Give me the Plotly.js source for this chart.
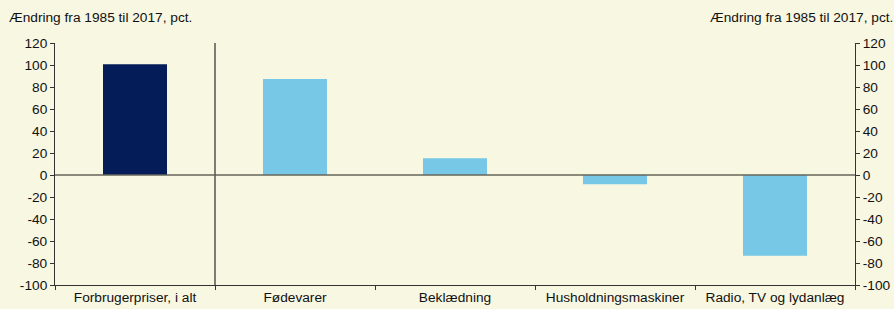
<!DOCTYPE html>
<html>
<head>
<meta charset="utf-8">
<script src="https://cdn.plot.ly/plotly-3.0.1.min.js"></script>
<style>html,body{margin:0;padding:0;background:#f8f7e1;}</style>
</head>
<body>
<div id="chart" style="width:894px;height:309px;"></div>
<script>
const categories = ["Forbrugerpriser, i alt", "Fødevarer", "Beklædning", "Husholdningsmaskiner", "Radio, TV og lydanlæg"];
const values = [100.6, 87.3, 15.2, -8.5, -73.5];
const barColors = ["#041c57", "#76c8e6", "#76c8e6", "#76c8e6", "#76c8e6"];
const yTicks = [-100, -80, -60, -40, -20, 0, 20, 40, 60, 80, 100, 120];
const axisTitle = "Ændring fra 1985 til 2017, pct.";

const font = {family: "Liberation Sans, Arial, sans-serif", size: 13.7, color: "#111"};
const axisColor = "#333";

const data = [
  {type: "bar", x: categories, y: values, marker: {color: barColors}, hoverinfo: "x+y"},
  {type: "bar", x: categories, y: values, yaxis: "y2", opacity: 0, hoverinfo: "skip", showlegend: false}
];

const yaxisCommon = {
  range: [-100, 120],
  tickvals: yTicks,
  ticktext: yTicks.map(String),
  ticks: "outside",
  ticklen: 4,
  tickcolor: axisColor,
  showline: true,
  linecolor: axisColor,
  linewidth: 1,
  showgrid: false,
  zeroline: false,
  fixedrange: true,
  tickfont: font
};

const layout = {
  width: 894, height: 309,
  margin: {l: 55, r: 39, t: 43, b: 24},
  paper_bgcolor: "#f8f7e1",
  plot_bgcolor: "#f8f7e1",
  showlegend: false,
  barmode: "overlay",
  bargap: 0.6,
  font: font,
  xaxis: {
    type: "category",
    tickson: "boundaries",
    ticks: "outside",
    ticklen: 4,
    tickcolor: axisColor,
    showline: true,
    linecolor: axisColor,
    linewidth: 1,
    showgrid: false,
    zeroline: false,
    tickfont: font,
    fixedrange: true
  },
  yaxis: Object.assign({}, yaxisCommon, {side: "left"}),
  yaxis2: Object.assign({}, yaxisCommon, {side: "right", overlaying: "y"}),
  shapes: [
    {type: "line", xref: "paper", x0: 0, x1: 1, yref: "y", y0: 0, y1: 0, line: {color: "#66665a", width: 1.5}},
    {type: "line", xref: "x", x0: 0.5, x1: 0.5, yref: "paper", y0: 0, y1: 1, line: {color: "#555", width: 1.5}}
  ],
  annotations: [
    {text: axisTitle, xref: "paper", yref: "paper", x: 0, y: 1, xshift: -48, yshift: 26, xanchor: "left", yanchor: "middle", showarrow: false, font: font},
    {text: axisTitle, xref: "paper", yref: "paper", x: 1, y: 1, xshift: 40, yshift: 26, xanchor: "right", yanchor: "middle", showarrow: false, font: font}
  ]
};

Plotly.newPlot("chart", data, layout, {displayModeBar: false, staticPlot: true});
</script>
</body>
</html>
